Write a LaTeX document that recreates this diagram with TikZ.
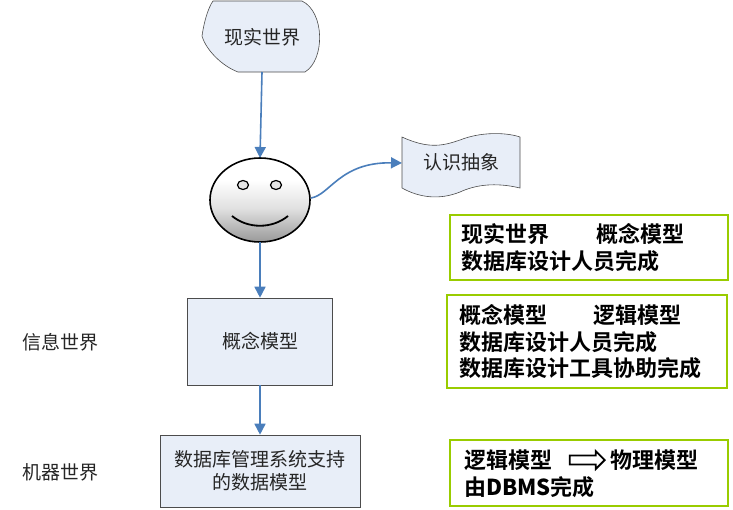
\documentclass[tikz,border=0pt]{standalone}
\usepackage{fontspec}
\setmainfont{Liberation Sans}
\newfontfamily\cjk{Noto Sans CJK SC}
\newfontfamily\cjkb{Noto Sans CJK SC Bold}
\usetikzlibrary{arrows.meta,shapes.arrows,shapes.geometric}
\definecolor{fillb}{HTML}{E8EEF8}
\definecolor{arr}{HTML}{4A7EBB}
\definecolor{grn}{HTML}{99CC00}
\pgfdeclareverticalshading{face}{100bp}{color(0bp)=(black!40); color(25bp)=(black!40); color(45bp)=(white!88!black); color(62bp)=(white); color(100bp)=(white)}
\begin{document}
\begin{tikzpicture}[x=1pt,y=-1pt,
  flow/.style={draw=arr,line width=1.6pt,-{Triangle[length=11pt,width=11pt]}},
  shp/.style={draw=black!70,fill=fillb,line width=0.6pt},
  txt/.style={font=\cjk\fontsize{19}{23}\selectfont,text=black!85},
  gbox/.style={draw=grn,line width=2.6pt,fill=white},
  gtxt/.style={font=\cjkb\fontsize{22}{24}\selectfont,anchor=west,inner sep=0}]
\useasboundingbox (0,0) rectangle (733,509);
% top shape
\draw[shp] (213,1) -- (302,1) .. controls (325,12) and (325,60) .. (305,72) -- (238,72) .. controls (222,66) and (206,50) .. (202,36) .. controls (204,22) and (208,8) .. (213,1) -- cycle;
\node[txt] (w) at (262,37) {现实世界};
% smiley
\shade[shading=face,draw=black,line width=1.6pt] (260,200) ellipse [x radius=50,y radius=42];
\node[draw=black,line width=1.2pt,ellipse,minimum width=11pt,minimum height=9pt,inner sep=0,fill=white!90!black] (e1) at (243,185) {};
\node[draw=black,line width=1.2pt,ellipse,minimum width=11pt,minimum height=9pt,inner sep=0,fill=white!90!black] (e2) at (276,185) {};
\draw[line width=1.8pt] (232,216) .. controls (248,229) and (272,229) .. (288,216);
\coordinate (fTop) at (260,158);
\coordinate (fBot) at (260,242);
\coordinate (fR) at (311,198);
% wave box
\draw[shp] (402,137) .. controls (430,150) and (445,145) .. (460,140) .. controls (480,132) and (505,132) .. (520,137) -- (520,188) .. controls (495,182) and (475,185) .. (460,192) .. controls (440,200) and (420,198) .. (402,188) -- cycle;
\node[txt] (rs) at (461,162) {认识抽象};
\coordinate (rsL) at (402,163);
% boxes
\node[shp,txt,minimum width=145pt,minimum height=87pt] (gn) at (260,341.5) {概念模型};
\node[shp,txt,minimum width=200pt,minimum height=72pt,align=center] (db) at (260,471) {数据库管理系统支持\\的数据模型};
\node[txt] (xx) at (60,342) {信息世界};
\node[txt] (jq) at (60,472) {机器世界};
% arrows
\draw[flow] (w.south |- 0,72) -- (fTop);
\draw[flow] (fR) .. controls (330,195) and (340,162) .. (rsL);
\draw[flow] (fBot) -- (gn.north);
\draw[flow] (gn.south) -- (db.north);
% green boxes
\draw[gbox] (450,215) rectangle (728,280);
\node[gtxt] (a1) at (461,234) {现实世界};
\node[gtxt] (a2) at (596,234) {概念模型};
\node[gtxt] (a3) at (461,261) {数据库设计人员完成};
\draw[gbox] (447,295) rectangle (727,388);
\node[gtxt] (b1) at (459,315) {概念模型};
\node[gtxt] (b2) at (593,315) {逻辑模型};
\node[gtxt] (b3) at (459,342) {数据库设计人员完成};
\node[gtxt] (b4) at (459,368) {数据库设计工具协助完成};
\draw[gbox] (450,440) rectangle (728,506);
\node[gtxt] (c1) at (464,460) {逻辑模型};
\node[single arrow,draw=black,line width=1.8pt,fill=white,minimum height=35pt,minimum width=18pt,single arrow head extend=3pt,inner sep=2pt] (ca) at (585,460) {};
\node[gtxt] (c2) at (610,460) {物理模型};
\node[gtxt] (c3) at (464,487) {由\textbf{DBMS}完成};
\end{tikzpicture}
\end{document}
